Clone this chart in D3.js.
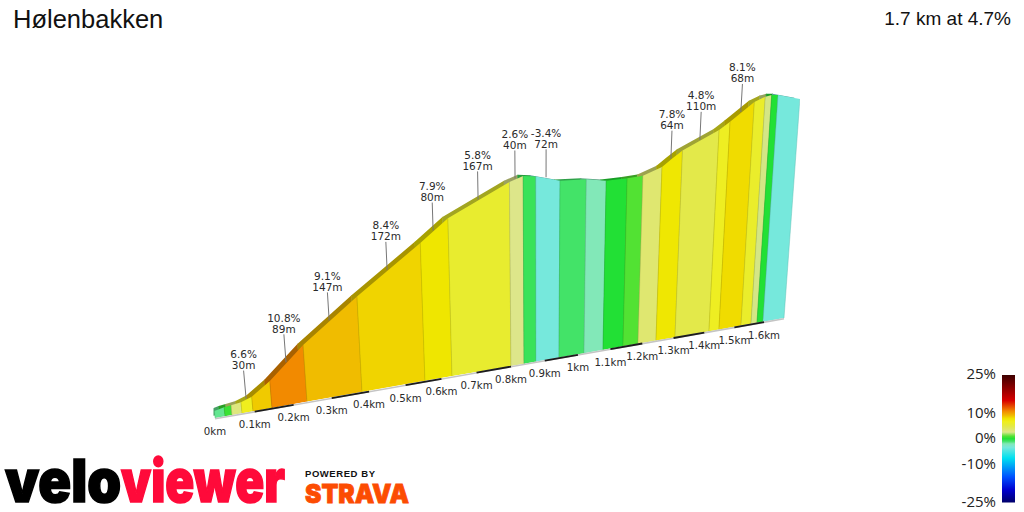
<!DOCTYPE html>
<html>
<head>
<meta charset="utf-8">
<script src="https://cdn.jsdelivr.net/npm/d3@7/dist/d3.min.js"></script>
<style>
html,body{margin:0;padding:0;background:#fff;}
svg{display:block;}
</style>
</head>
<body>
<svg id="chart" width="1024" height="512"></svg>
<script>
// Road outline: knots along the climb (km) and elevation at each knot (m)
const profileKm = [0,.025,.0425,.0677,.0956,.1441,.2349,.381,.5538,.6298,.7999,.8382,.8738,.9426,1.0186,1.077,1.1392,1.1864,1.2436,1.2732,1.3046,1.4155,1.4486,1.522,1.5558,1.5761,1.5965,1.6686];
const profileElev = [2.2,2.8,3.1,3.5,4.6,8.6,18.2,31.1,45.7,52.7,62.4,63.9,63.2,60.8,60.2,58.9,58.9,59.1,61.4,63.9,66.4,72.3,74.9,81.2,82.7,83.1,82.9,80.6];

// Coloured stretches: where each one starts (km, the last entry closes the final one) and its gradient (%)
const stretchKm = [0,.025,.0425,.0677,.0956,.1441,.2349,.381,.5538,.6298,.7999,.8382,.8738,.9426,1.0186,1.077,1.1392,1.1864,1.2436,1.3046,1.4155,1.4486,1.522,1.5558,1.5761,1.5965,1.6686];
const stretchGrade = [-1.5,.5,3,6.6,8.7,10.8,9.1,8.4,7.9,5.8,2.6,-.7,-3.4,-1,-2,0,1,3.5,7.8,4.8,6.4,8.1,6,2.5,0,-3.4];

// Callouts: position on the road, gradient and length of each notable stretch
const calloutKm = [.0809,.1883,.3055,.463,.589,.7128,.8155,.9027,1.27,1.357,1.481];
const calloutGrade = ["6.6%","10.8%","9.1%","8.4%","7.9%","5.8%","2.6%","-3.4%","7.8%","4.8%","8.1%"];
const calloutLength = ["30m","89m","147m","172m","80m","167m","40m","72m","64m","110m","68m"];

const tickKm = [0,.1,.2,.3,.4,.5,.6,.7,.8,.9,1,1.1,1.2,1.3,1.4,1.5,1.6];
const tickText = ["0km","0.1km","0.2km","0.3km","0.4km","0.5km","0.6km","0.7km","0.8km","0.9km","1km","1.1km","1.2km","1.3km","1.4km","1.5km","1.6km"];

const legendTicks = [25,10,0,-10,-25];
const gradeStops = [-25,-20,-15,-7.6,-3.4,-2,-1,0,1,2.6,4.8,5.8,6.6,7.9,8.1,8.4,9.1,10.8,15,25];
const gradeColours = ["#00006a","#0000d0","#0050ff","#00e0f0","#76e8dc","#82e8b8","#43e368","#22e035","#52e233","#dde68a","#e3e94a","#e8ec2f","#f0ee1e","#efe600","#f0dc00","#f0d400","#f0bc00","#f28a00","#d80000","#3d0000"];

const titleText = "Hølenbakken";
const summaryText = "1.7 km at 4.7%";

const svg = d3.select("#chart");
const gradeColour = d3.scaleLinear().domain(gradeStops).range(gradeColours).clamp(true);

// Perspective projection: the road recedes, so both distance and height compress with km
const recede = 0.1063;
const depth = km => km / (1 + recede * km);
const baseX = d3.scaleLinear().domain([0, depth(1.6)]).range([215, 764]);
const baseY = d3.scaleLinear().domain([215, 784]).range([418, 318]);
const heightPx = d3.scaleLinear().domain([0, 100]).range([0, 320]);
const lean = d3.scaleLinear().domain([539, 784]).range([0, 0.0727]);
const elevAt = d3.scaleLinear().domain(profileKm).range(profileElev);

function project(km, elev) {
  const bx = baseX(depth(km));
  const h = heightPx(elev) / (1 + recede * km);
  return [bx + lean(bx) * h, baseY(bx) - h];
}
const foot = km => { const x = baseX(depth(km)); return [x, baseY(x)]; };

const knots = profileKm.map((km, i) => ({km, elev: profileElev[i]}));
const wallArea = d3.area()
  .x(d => project(d.km, d.elev)[0])
  .y1(d => project(d.km, d.elev)[1])
  .y0(d => foot(d.km)[1] + 0.5);

const defs = svg.append("defs");
defs.append("clipPath").attr("id", "wall-clip").append("path").attr("d", wallArea(knots));
const roadShift = [-5.5, -1.2];
defs.append("clipPath").attr("id", "road-clip").append("path")
  .attr("d", wallArea(knots)).attr("transform", `translate(${roadShift})`);
defs.append("clipPath").attr("id", "road-start").append("rect")
  .attr("x", 213.5).attr("y", 0).attr("width", 800).attr("height", 512);

// A quad for one stretch, its edges following the leaning verticals and overshooting the top
function stretchQuad(i, overshoot) {
  const a = stretchKm[i], b = stretchKm[i + 1];
  const tall = 130;
  const [ax, ay] = foot(a), [bx, by] = foot(b);
  const [atx, aty] = project(a, tall), [btx, bty] = project(b, tall);
  return d3.line()([[ax - overshoot, ay], [atx - overshoot, aty], [btx, bty], [bx, by]]);
}
const stretches = stretchGrade.map((g, i) => i);

// Road surface, seen as a darker band above the wall
svg.append("g").attr("clip-path", "url(#road-start)")
  .append("g").attr("clip-path", "url(#road-clip)")
  .selectAll("path").data(stretches).join("path")
  .attr("d", i => stretchQuad(i, i === 0 ? 8 : 0))
  .attr("transform", `translate(${roadShift})`)
  .attr("fill", i => d3.color(gradeColour(stretchGrade[i])).darker(1))
  .attr("stroke", i => d3.color(gradeColour(stretchGrade[i])).darker(1))
  .attr("stroke-width", 0.5);

// Coloured wall
svg.append("g").attr("clip-path", "url(#wall-clip)")
  .selectAll("path").data(stretches).join("path")
  .attr("d", i => stretchQuad(i, 0))
  .attr("fill", i => gradeColour(stretchGrade[i]))
  .attr("stroke", i => d3.color(gradeColour(stretchGrade[i])).darker(0.6))
  .attr("stroke-opacity", 0.45)
  .attr("stroke-width", 1);

// Road edge along the ground, with alternating black tenths
svg.append("line")
  .attr("x1", foot(0)[0]).attr("y1", foot(0)[1] + 0.8)
  .attr("x2", foot(1.6686)[0]).attr("y2", foot(1.6686)[1] + 0.8)
  .attr("stroke", "#c4c4c4").attr("stroke-width", 1.6);
svg.append("g").selectAll("line")
  .data(tickKm.map((k, i) => i).filter(i => i % 2 === 1 && i + 1 < tickKm.length))
  .join("line")
  .attr("x1", i => foot(tickKm[i])[0]).attr("y1", i => foot(tickKm[i])[1] + 0.6)
  .attr("x2", i => foot(tickKm[i + 1])[0]).attr("y2", i => foot(tickKm[i + 1])[1] + 0.6)
  .attr("stroke", "#1c1c1c").attr("stroke-width", 1.8);

// Distance labels
const labelFont = "'DejaVu Sans', Verdana, sans-serif";
svg.append("g").selectAll("text").data(tickKm).join("text")
  .attr("x", k => foot(k)[0])
  .attr("y", k => foot(k)[1] + 17)
  .attr("text-anchor", "middle")
  .attr("font-family", labelFont).attr("font-size", 10.2).attr("fill", "#2a2a2a")
  .text((k, i) => tickText[i]);

// Callouts with a leader rising from the road
const callouts = svg.append("g").selectAll("g").data(calloutKm).join("g");
const leaderEnd = km => {
  const [x, y] = project(km, elevAt(km));
  return [x, y - 1];
};
const leaderTop = km => {
  const [x, y] = leaderEnd(km);
  return [x + lean(foot(km)[0]) * 29, y - 28];
};
callouts.append("line")
  .attr("x1", k => leaderEnd(k)[0]).attr("y1", k => leaderEnd(k)[1])
  .attr("x2", k => leaderTop(k)[0]).attr("y2", k => leaderTop(k)[1])
  .attr("stroke", "#777").attr("stroke-width", 1);
callouts.append("text")
  .attr("x", k => leaderTop(k)[0]).attr("y", k => leaderTop(k)[1] - 12.5)
  .attr("text-anchor", "middle").attr("font-family", labelFont).attr("font-size", 10.5).attr("fill", "#2a2a2a")
  .text((k, i) => calloutGrade[i]);
callouts.append("text")
  .attr("x", k => leaderTop(k)[0]).attr("y", k => leaderTop(k)[1] - 1.5)
  .attr("text-anchor", "middle").attr("font-family", labelFont).attr("font-size", 10.5).attr("fill", "#2a2a2a")
  .text((k, i) => calloutLength[i]);

// Heading
const headFont = "'Liberation Sans', Arial, sans-serif";
svg.append("text").attr("x", 13).attr("y", 28)
  .attr("font-family", headFont).attr("font-size", 25.5).attr("fill", "#111").text(titleText);
svg.append("text").attr("x", 1011).attr("y", 25).attr("text-anchor", "end")
  .attr("font-family", headFont).attr("font-size", 19).attr("fill", "#111").text(summaryText);

// Gradient legend
const legendY = d3.scaleLinear().domain([25, -25]).range([375, 502.5]);
const legendGrad = defs.append("linearGradient").attr("id", "grade-ramp")
  .attr("x1", 0).attr("y1", 0).attr("x2", 0).attr("y2", 1);
legendGrad.selectAll("stop").data(gradeStops.slice().reverse()).join("stop")
  .attr("offset", g => (legendY(g) - 375) / 127.5)
  .attr("stop-color", g => gradeColour(g));
svg.append("rect").attr("x", 1002).attr("y", 375).attr("width", 13).attr("height", 127.5)
  .attr("fill", "url(#grade-ramp)");
svg.append("g").selectAll("text").data(legendTicks).join("text")
  .attr("x", 996).attr("y", g => legendY(g) - 1).attr("dy", "0.36em")
  .attr("text-anchor", "end").attr("font-family", "'Open Sans', sans-serif")
  .attr("font-size", 15).attr("fill", "#222").text(g => g + "%");

// Wordmarks, thickened with a stroke of their own colour
const markFont = "Inter, Lato, sans-serif";
const mark = svg.append("g").attr("font-family", markFont).attr("font-weight", 900);
mark.append("text").attr("x", 5).attr("y", 502).attr("font-size", 59).attr("fill", "#000")
  .attr("stroke", "#000").attr("stroke-width", 1.6)
  .attr("textLength", 116).attr("lengthAdjust", "spacingAndGlyphs").text("velo");
mark.append("text").attr("x", 121).attr("y", 502).attr("font-size", 59).attr("fill", "#ff0a3a")
  .attr("stroke", "#ff0a3a").attr("stroke-width", 1.6)
  .attr("textLength", 164).attr("lengthAdjust", "spacingAndGlyphs").text("viewer");
mark.append("text").attr("x", 305).attr("y", 477).attr("font-size", 9.5).attr("font-weight", 700)
  .attr("font-family", headFont).attr("fill", "#111")
  .attr("textLength", 70).attr("lengthAdjust", "spacing").text("POWERED BY");
mark.append("text").attr("x", 305).attr("y", 503).attr("font-size", 26).attr("fill", "#fc4c02")
  .attr("stroke", "#fc4c02").attr("stroke-width", 0.8)
  .attr("textLength", 104).attr("lengthAdjust", "spacingAndGlyphs").text("STRAVA");
</script>
</body>
</html>
